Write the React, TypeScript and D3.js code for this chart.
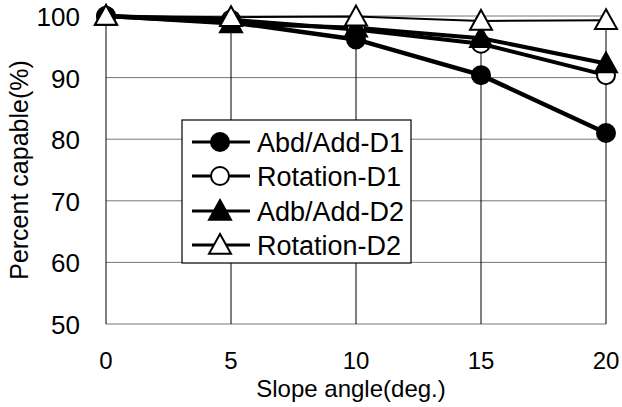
import React from "react";
import * as d3 from "d3";

const slopes = [0, 5, 10, 15, 20];
const yTicks = [50, 60, 70, 80, 90, 100];
const seriesNames = ["Abd/Add-D1", "Rotation-D1", "Adb/Add-D2", "Rotation-D2"];
const abdAddD1 = [100, 99, 96.2, 90.4, 81.0];
const rotationD1 = [100, 99.4, 97.8, 95.5, 90.4];
const adbAddD2 = [100, 98.8, 98.1, 96.4, 92.3];
const rotationD2 = [100, 99.8, 99.9, 99.2, 99.3];

const W = 622;
const H = 407;
const FONT = "'Liberation Sans', Arial, sans-serif";

export default function App() {
  const x = d3.scaleLinear().domain([0, 20]).range([106, 606]);
  const y = d3.scaleLinear().domain([50, 100]).range([324, 16]);

  const series = [
    { name: seriesNames[1], values: rotationD1, marker: "circle", fill: "#fff", width: 4 },
    { name: seriesNames[0], values: abdAddD1, marker: "circle", fill: "#000", width: 4.5 },
    { name: seriesNames[2], values: adbAddD2, marker: "triangle", fill: "#000", width: 4 },
    { name: seriesNames[3], values: rotationD2, marker: "triangle", fill: "#fff", width: 2 },
  ];
  const legendOrder = [1, 0, 2, 3];

  const line = d3
    .line<number>()
    .x((_, i) => x(slopes[i]))
    .y((d) => y(d));

  const marker = (type: string, fill: string, cx: number, cy: number, key: string) => {
    if (type === "circle") {
      return <circle key={key} cx={cx} cy={cy} r={9} fill={fill} stroke="#000" strokeWidth={2} />;
    }
    const s = 11;
    const p = `M${cx},${cy - s} L${cx + s},${cy + s * 0.8} L${cx - s},${cy + s * 0.8} Z`;
    return <path key={key} d={p} fill={fill} stroke="#000" strokeWidth={2} strokeLinejoin="miter" />;
  };

  const legendX = 182;
  const legendY = 120;
  const legendW = 229;
  const legendH = 143;
  const rowYs = [142, 176, 211, 245];

  return (
    <svg
      width={W}
      height={H}
      style={{ position: "absolute", left: 0, top: 0, background: "#fff" }}
      fontFamily={FONT}
    >
      <rect x={0} y={0} width={W} height={H} fill="#fff" />
      {/* horizontal grid */}
      {yTicks.map((t) => (
        <line key={"h" + t} x1={x(0)} x2={x(20)} y1={y(t)} y2={y(t)} stroke="#777" strokeWidth={1} />
      ))}
      {/* vertical grid */}
      {slopes.map((s) => (
        <line key={"v" + s} x1={x(s)} x2={x(s)} y1={y(100)} y2={y(50)} stroke="#000" strokeWidth={1} />
      ))}
      {/* y tick labels */}
      {yTicks.map((t) => (
        <text key={"yt" + t} x={80} y={y(t) + 10} textAnchor="end" fontSize={26} fill="#000">
          {t}
        </text>
      ))}
      {/* x tick labels */}
      {slopes.map((s) => (
        <text key={"xt" + s} x={x(s)} y={369} textAnchor="middle" fontSize={24} fill="#000">
          {s}
        </text>
      ))}
      <text x={351} y={397} textAnchor="middle" fontSize={24} fill="#000">
        Slope angle(deg.)
      </text>
      <text
        transform={`translate(28,${(y(100) + y(50)) / 2}) rotate(-90)`}
        textAnchor="middle"
        fontSize={25}
        fill="#000"
      >
        Percent capable(%)
      </text>
      {/* series lines */}
      {series.map((s) => (
        <path key={"l" + s.name} d={line(s.values) || ""} fill="none" stroke="#000" strokeWidth={s.width} />
      ))}
      {/* markers */}
      {series.map((s) =>
        s.values.map((v, i) => marker(s.marker, s.fill, x(slopes[i]), y(v), s.name + i))
      )}
      {/* legend */}
      <rect x={legendX} y={legendY} width={legendW} height={legendH} fill="#fff" stroke="#000" strokeWidth={1.2} />
      {legendOrder.map((si, k) => {
        const s = series[si];
        const ry = rowYs[k];
        return (
          <g key={"lg" + k}>
            <line x1={192} x2={250} y1={ry} y2={ry} stroke="#000" strokeWidth={3} />
            {marker(s.marker, s.fill, 220, ry, "lm" + k)}
            <text x={257} y={ry + 10} fontSize={27} fill="#000">
              {s.name}
            </text>
          </g>
        );
      })}
    </svg>
  );
}
